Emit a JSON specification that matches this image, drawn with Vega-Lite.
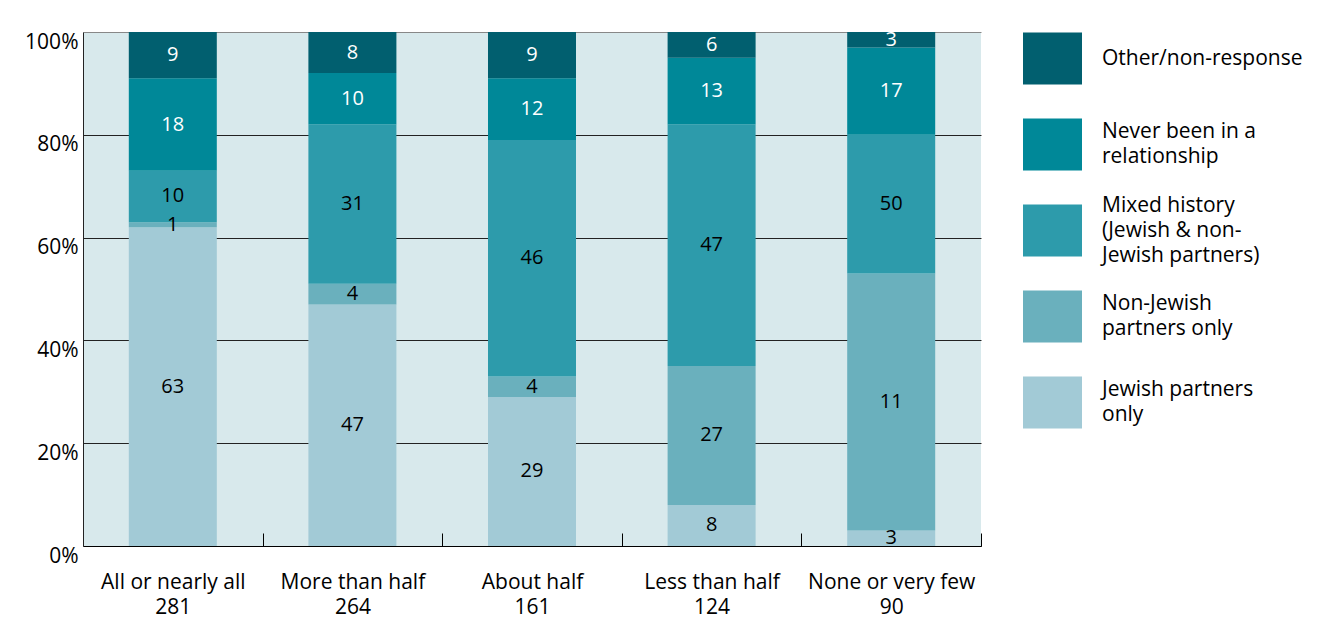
{
  "$schema": "https://vega.github.io/schema/vega-lite/v6.json",
  "width": 898,
  "height": 514,
  "autosize": {"type": "none"},
  "padding": {"left": 83, "top": 32, "right": 339, "bottom": 83},
  "background": "white",
  "config": {"view": {"fill": "#d8e9ec", "stroke": null}, "font": "Open Sans"},
  "data": {
    "values": [
      {"group": "All or nearly all|281", "series": "Jewish partners only", "k": 1, "pct": 62, "label": "63"},
      {"group": "All or nearly all|281", "series": "Non-Jewish partners only", "k": 2, "pct": 1, "label": "1"},
      {"group": "All or nearly all|281", "series": "Mixed history (Jewish & non-Jewish partners)", "k": 3, "pct": 10, "label": "10"},
      {"group": "All or nearly all|281", "series": "Never been in a relationship", "k": 4, "pct": 18, "label": "18"},
      {"group": "All or nearly all|281", "series": "Other/non-response", "k": 5, "pct": 9, "label": "9"},
      {"group": "More than half|264", "series": "Jewish partners only", "k": 1, "pct": 47, "label": "47"},
      {"group": "More than half|264", "series": "Non-Jewish partners only", "k": 2, "pct": 4, "label": "4"},
      {"group": "More than half|264", "series": "Mixed history (Jewish & non-Jewish partners)", "k": 3, "pct": 31, "label": "31"},
      {"group": "More than half|264", "series": "Never been in a relationship", "k": 4, "pct": 10, "label": "10"},
      {"group": "More than half|264", "series": "Other/non-response", "k": 5, "pct": 8, "label": "8"},
      {"group": "About half|161", "series": "Jewish partners only", "k": 1, "pct": 29, "label": "29"},
      {"group": "About half|161", "series": "Non-Jewish partners only", "k": 2, "pct": 4, "label": "4"},
      {"group": "About half|161", "series": "Mixed history (Jewish & non-Jewish partners)", "k": 3, "pct": 46, "label": "46"},
      {"group": "About half|161", "series": "Never been in a relationship", "k": 4, "pct": 12, "label": "12"},
      {"group": "About half|161", "series": "Other/non-response", "k": 5, "pct": 9, "label": "9"},
      {"group": "Less than half|124", "series": "Jewish partners only", "k": 1, "pct": 8, "label": "8"},
      {"group": "Less than half|124", "series": "Non-Jewish partners only", "k": 2, "pct": 27, "label": "27"},
      {"group": "Less than half|124", "series": "Mixed history (Jewish & non-Jewish partners)", "k": 3, "pct": 47, "label": "47"},
      {"group": "Less than half|124", "series": "Never been in a relationship", "k": 4, "pct": 13, "label": "13"},
      {"group": "Less than half|124", "series": "Other/non-response", "k": 5, "pct": 5, "label": "6"},
      {"group": "None or very few|90", "series": "Jewish partners only", "k": 1, "pct": 3, "label": "3"},
      {"group": "None or very few|90", "series": "Non-Jewish partners only", "k": 2, "pct": 50, "label": "11"},
      {"group": "None or very few|90", "series": "Mixed history (Jewish & non-Jewish partners)", "k": 3, "pct": 27, "label": "50"},
      {"group": "None or very few|90", "series": "Never been in a relationship", "k": 4, "pct": 17, "label": "17"},
      {"group": "None or very few|90", "series": "Other/non-response", "k": 5, "pct": 3, "label": "3"}
    ]
  },
  "transform": [
    {"stack": "pct", "groupby": ["group"], "sort": [{"field": "k", "order": "ascending"}], "offset": "normalize", "as": ["v0", "v1"]},
    {"calculate": "(datum.v0 + datum.v1) / 2", "as": "mid"}
  ],
  "encoding": {
    "x": {
      "field": "group",
      "type": "nominal",
      "sort": null,
      "scale": {"paddingInner": 0.51, "paddingOuter": 0.255},
      "axis": {
        "title": null,
        "labelExpr": "split(datum.label, '|')",
        "labelAngle": 0,
        "labelFontSize": 21,
        "labelColor": "black",
        "labelLineHeight": 25,
        "labelBaseline": "top",
        "labelPadding": 38,
        "labelLimit": 300,
        "tickOffset": 89.8,
        "labelOffset": -89.8,
        "tickSize": -13,
        "tickColor": "black",
        "domainColor": "black",
        "grid": false
      }
    }
  },
  "layer": [
    {
      "mark": {"type": "bar"},
      "encoding": {
        "y": {
          "field": "v0",
          "type": "quantitative",
          "scale": {"domain": [0, 1], "nice": false},
          "axis": {
            "title": null,
            "values": [0, 0.2, 0.4, 0.6, 0.8, 1],
            "format": ".0%",
            "grid": true,
            "gridColor": {"condition": {"test": "datum.value === 1", "value": "#888888"}, "value": "#222222"},
            "gridWidth": 1,
            "ticks": false,
            "domainColor": "#222222",
            "labelFontSize": 21,
            "labelColor": "black",
            "labelPadding": 5,
            "labelOffset": 10,
            "labelFlush": false
          }
        },
        "y2": {"field": "v1"},
        "color": {
          "field": "series",
          "type": "nominal",
          "scale": {
            "domain": ["Other/non-response", "Never been in a relationship", "Mixed history (Jewish & non-Jewish partners)", "Non-Jewish partners only", "Jewish partners only"],
            "range": ["#015f6f", "#008898", "#2d9bab", "#6ab0bd", "#a2cad6"]
          },
          "legend": {
            "orient": "none",
            "legendX": 940,
            "legendY": -3,
            "title": null,
            "symbolType": "M-1,-0.88H1V0.88H-1Z",
            "symbolSize": 3481,
            "symbolStrokeWidth": 0,
            "symbolOpacity": 1,
            "labelFontSize": 21,
            "labelColor": "black",
            "labelLimit": 300,
            "labelOffset": 20,
            "gridAlign": "all",
            "rowPadding": 14,
            "labelExpr": "datum.label === 'Never been in a relationship' ? ['Never been in a', 'relationship'] : datum.label === 'Mixed history (Jewish & non-Jewish partners)' ? ['Mixed history', '(Jewish & non-', 'Jewish partners)'] : datum.label === 'Non-Jewish partners only' ? ['Non-Jewish', 'partners only'] : datum.label === 'Jewish partners only' ? ['Jewish partners', 'only'] : datum.label",
            "encode": {"labels": {"update": {
              "lineHeight": {"value": 25},
              "dy": {"signal": "datum.label === 'Mixed history (Jewish & non-Jewish partners)' ? -25 : datum.label === 'Other/non-response' ? 0 : -12.5"}
            }}}
          }
        }
      }
    },
    {
      "mark": {"type": "text", "fontSize": 20, "baseline": "middle"},
      "encoding": {
        "y": {"field": "mid", "type": "quantitative", "axis": {"title": null}},
        "text": {"field": "label"},
        "color": {
          "condition": {"test": "datum.series === 'Other/non-response' || datum.series === 'Never been in a relationship'", "value": "white"},
          "value": "black"
        }
      }
    }
  ]
}
